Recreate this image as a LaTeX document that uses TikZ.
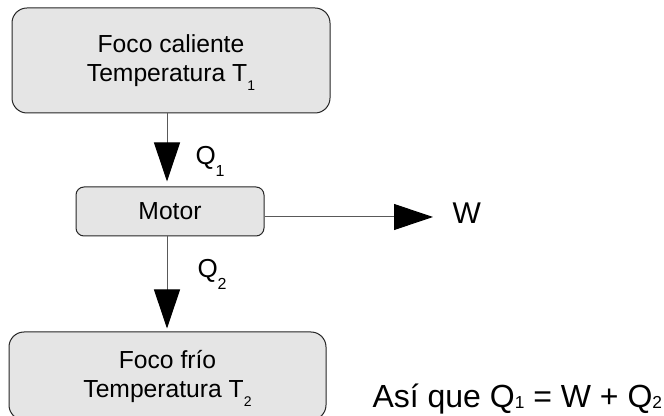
\documentclass[tikz,border=0pt]{standalone}
\usepackage{fontspec}
\setmainfont{Liberation Sans}
\usetikzlibrary{arrows.meta}

\tikzset{every picture/.style={line width=0.75pt}}
\tikzset{
  focobox/.style={draw=black!85, fill=black!10, rounded corners=11.25pt, inner sep=0pt,
    align=center, font=\fontsize{18.5}{21.75}\selectfont},
  motorbox/.style={focobox, rounded corners=6pt},
  flecha/.style={draw=black!65, -{Triangle[length=29.25pt,width=19.5pt,color=black]}},
  etiqueta/.style={anchor=base west, inner sep=0pt, font=\fontsize{19.5}{19.5}\selectfont}
}
\newcommand{\Tsub}[1]{\raisebox{-7pt}[0pt][0pt]{\fontsize{10.5}{10.5}\selectfont #1}}
\newcommand{\Qsub}[1]{\raisebox{-9pt}[0pt][0pt]{\fontsize{12}{12}\selectfont #1}}

\begin{document}
\begin{tikzpicture}[x=0.75pt,y=0.75pt,yscale=-1,xscale=1]
\clip (0,0) rectangle (664,416);

% Text Node
\node [focobox, minimum width=238.5pt, minimum height=78.75pt] (hot) at (171,60.5) {Foco caliente\\Temperatura T\Tsub{1}};
% Text Node
\node [motorbox, minimum width=141pt, minimum height=36.75pt] (motor) at (170,211.5) {Motor};
% Text Node
\node [focobox, minimum width=237.75pt, minimum height=66pt] (cold) at (167.5,376) {Foco frío\\Temperatura T\Tsub{2}};
% Text Node
\node [etiqueta] (q1) at (195,165) {Q\Qsub{1}};
\node [etiqueta] (q2) at (197,278) {Q\Qsub{2}};
\node [etiqueta, font=\fontsize{22.5}{22.5}\selectfont] (w) at (452,224) {W};
% Text Node
\node [anchor=base west, inner sep=0pt, font=\fontsize{24}{24}\selectfont] (eq) at (372,407)
  {Así que Q\raisebox{-1pt}{\fontsize{13}{13}\selectfont 1} = W + Q\raisebox{-1pt}{\fontsize{13}{13}\selectfont 2}};

% Connection
\draw [flecha, shorten >=3.75pt] ([xshift=-3pt]hot.south) -- ([xshift=-3pt]hot.south |- motor.north);
% Connection
\draw [flecha, shorten >=2.25pt] ([xshift=-2.25pt]motor.south) -- ([xshift=-2.25pt]motor.south |- cold.north);
% Connection
\coordinate (wtip) at (433,217);
\draw [flecha] (motor.east |- wtip) -- (wtip);

\end{tikzpicture}
\end{document}
